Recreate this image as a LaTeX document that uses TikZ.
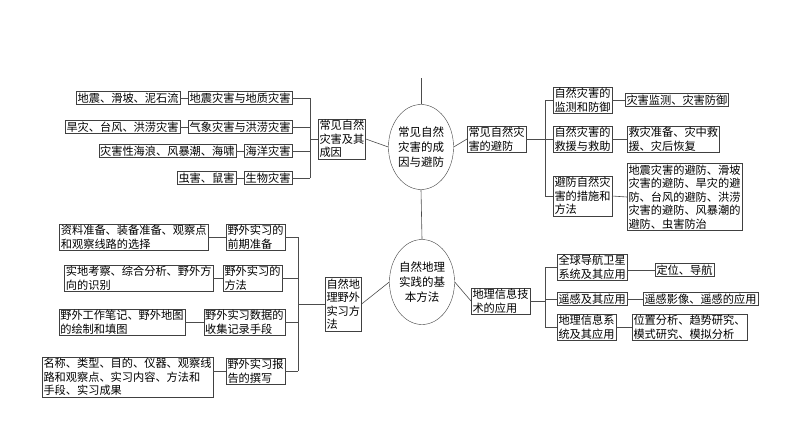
\documentclass[tikz,border=0pt]{standalone}
\usepackage{fontspec}
\setmainfont{Noto Sans CJK SC}
\usetikzlibrary{shapes.geometric}
\tikzset{
  box/.style={draw=black!75, fill=white, inner sep=1.3pt, align=left, font=\fontsize{11.2}{13.5}\selectfont},
  hub/.style={draw=black!75, ellipse, minimum width=58pt, minimum height=85pt, inner sep=0pt, align=center, font=\fontsize{11.5}{15}\selectfont},
  link/.style={draw=black!70, line width=0.6pt}
}
\begin{document}
\begin{tikzpicture}[x=1pt, y=-1pt]
  \useasboundingbox (0,0) rectangle (794,447);
  % centre
  \coordinate (top) at (421,78);
  \node[hub] (cause)  at (421,147) {常见自然\\灾害的成\\因与避防};
  \node[hub] (method) at (422,282) {自然地理\\实践的基\\本方法};
  \draw[link] (top) -- (cause.north);
  \draw[link] (cause.south) -- (method.north);

  % upper left
  \node[box, anchor=west] (kinds) at (318,139) {常见自然\\灾害及其\\成因};
  \node[box, anchor=east] (geo)   at (292,98)  {地震灾害与地质灾害};
  \node[box, anchor=east] (meteo) at (292,127) {气象灾害与洪涝灾害};
  \node[box, anchor=east] (ocean) at (292,151) {海洋灾害};
  \node[box, anchor=east] (bio)   at (292,178) {生物灾害};
  \node[box, anchor=east] (geo-l)   at (180,98)  {地震、滑坡、泥石流};
  \node[box, anchor=east] (meteo-l) at (180,127) {旱灾、台风、洪涝灾害};
  \node[box, anchor=east] (ocean-l) at (236,151) {灾害性海浪、风暴潮、海啸};
  \node[box, anchor=east] (bio-l)   at (236,178) {虫害、鼠害};
  \coordinate (b1) at (310,139);
  \foreach \n in {geo, meteo, ocean, bio} {
    \draw[link] (\n.east) -- (\n.east -| b1);
    \draw[link] (\n-l.east) -- (\n.west);
  }
  \draw[link] (geo.east -| b1) -- (bio.east -| b1);
  \draw[link] (b1) -- (kinds.west);
  \draw[link] (kinds.east) -- (cause.west);

  % upper right
  \node[box, anchor=west] (avoid) at (467,139) {常见自然灾\\害的避防};
  \node[box, anchor=west] (watch)  at (553,100) {自然灾害的\\监测和防御};
  \node[box, anchor=west] (rescue) at (553,139) {自然灾害的\\救援与救助};
  \node[box, anchor=west] (means)  at (553,196) {避防自然灾\\害的措施和\\方法};
  \node[box, anchor=west] (watch-r)  at (625,100) {灾害监测、灾害防御};
  \node[box, anchor=west] (rescue-r) at (627,139) {救灾准备、灾中救\\援、灾后恢复};
  \node[box, anchor=west] (means-r)  at (627,197) {地震灾害的避防、滑坡\\灾害的避防、旱灾的避\\防、台风的避防、洪涝\\灾害的避防、风暴潮的\\避防、虫害防治};
  \coordinate (b2) at (545,139);
  \foreach \n in {watch, rescue, means} {
    \draw[link] (\n.west -| b2) -- (\n.west);
    \draw[link] (\n.east) -- (\n-r.west);
  }
  \draw[link] (watch.west -| b2) -- (means.west -| b2);
  \draw[link] (cause.east) -- (avoid.west);
  \draw[link] (avoid.east) -- (b2);

  % lower left
  \node[box, anchor=west] (field) at (325,304) {自然地\\理野外\\实习方\\法};
  \node[box, anchor=east] (prep)   at (285,237) {野外实习的\\前期准备};
  \node[box, anchor=east] (way)    at (282,278) {野外实习的\\方法};
  \node[box, anchor=east] (record) at (285,322) {野外实习数据的\\收集记录手段};
  \node[box, anchor=east] (report) at (285,371) {野外实习报\\告的撰写};
  \node[box, anchor=east] (prep-l)   at (208,237) {资料准备、装备准备、观察点\\和观察线路的选择};
  \node[box, anchor=east] (way-l)    at (213,278) {实地考察、综合分析、野外方\\向的识别};
  \node[box, anchor=east] (record-l) at (185,322) {野外工作笔记、野外地图\\的绘制和填图};
  \node[box, anchor=east] (report-l) at (213,377) {名称、类型、目的、仪器、观察线\\路和观察点、实习内容、方法和\\手段、实习成果};
  \coordinate (b3) at (298,304);
  \foreach \n in {prep, way, record, report} {
    \draw[link] (\n.east) -- (\n.east -| b3);
    \draw[link] (\n-l.east |- \n.west) -- (\n.west);
  }
  \draw[link] (prep.east -| b3) -- (report.east -| b3);
  \draw[link] (b3) -- (field.west);
  \draw[link] (field.east) -- (method.west);

  % lower right
  \node[box, anchor=west] (gis) at (471,301) {地理信息技\\术的应用};
  \node[box, anchor=west] (gnss) at (557,267) {全球导航卫星\\系统及其应用};
  \node[box, anchor=west] (rs)   at (557,299) {遥感及其应用};
  \node[box, anchor=west] (sys)  at (557,327) {地理信息系\\统及其应用};
  \node[box, anchor=west] (gnss-r) at (655,270) {定位、导航};
  \node[box, anchor=west] (rs-r)   at (643,299) {遥感影像、遥感的应用};
  \node[box, anchor=west] (sys-r)  at (632,327) {位置分析、趋势研究、\\模式研究、模拟分析};
  \coordinate (b4) at (545,301);
  \foreach \n in {gnss, rs, sys} {
    \draw[link] (\n.west -| b4) -- (\n.west);
    \draw[link] (\n.east |- \n-r.west) -- (\n-r.west);
  }
  \draw[link] (gnss.west -| b4) -- (sys.west -| b4);
  \draw[link] (method.east) -- (gis.west);
  \draw[link] (gis.east) -- (b4);
\end{tikzpicture}
\end{document}
